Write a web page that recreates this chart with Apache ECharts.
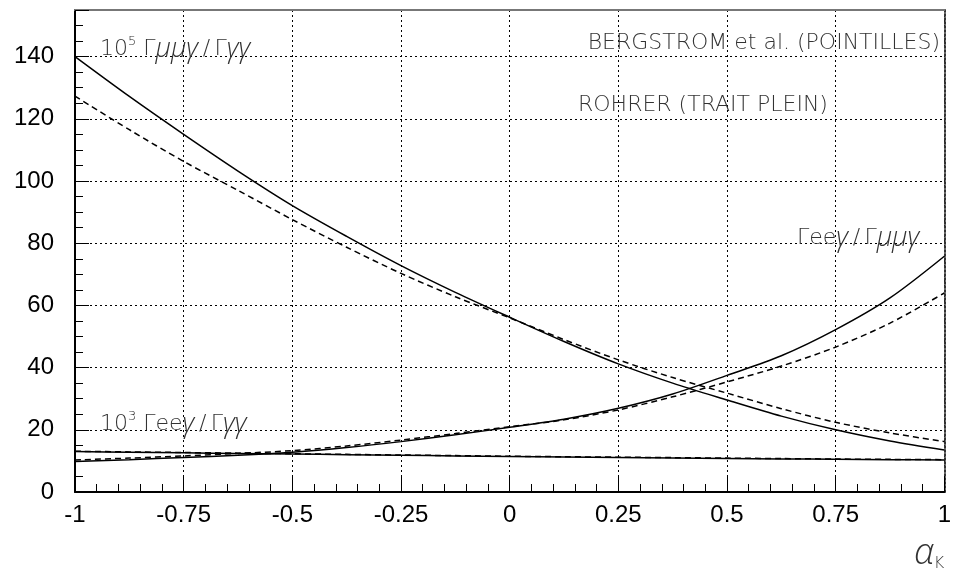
<!DOCTYPE html>
<html><head><meta charset="utf-8">
<script src="https://cdn.jsdelivr.net/npm/echarts@6/dist/echarts.min.js"></script>
<style>html,body{margin:0;padding:0;background:#fff}#c{width:954px;height:576px}</style>
</head><body><div id="c"></div>
<script>
const alphaK = [-1,-0.875,-0.75,-0.625,-0.5,-0.375,-0.25,-0.125,0,0.125,0.25,0.375,0.5,0.625,0.75,0.875,1];
// 10^5 Γμμγ/Γγγ
const mumuRohrer = [140,127.2,115.0,103.2,92.1,82.2,72.8,64.2,56.2,48.4,41.2,35.0,29.6,24.4,20.0,16.4,13.5];
const mumuBergstrom = [127.3,116.5,106.3,97.0,87.6,78.7,70.3,62.8,56.0,49.0,42.5,36.8,31.8,26.8,22.4,19.0,16.2];
// Γeeγ/Γμμγ
const ratioRohrer = [9.8,10.4,11.1,11.8,12.8,14.3,16.2,18.4,20.8,23.4,26.9,31.5,37.5,43.8,52.2,62.4,75.8];
const ratioBergstrom = [10.3,10.9,11.6,12.4,13.3,14.8,16.7,18.8,21.0,23.2,26.4,30.6,35.4,40.5,46.6,54.3,64.0];
// 10^3 Γeeγ/Γγγ
const eeRohrer = [13.0,12.8,12.6,12.4,12.2,12.0,11.8,11.6,11.4,11.25,11.1,10.95,10.8,10.65,10.5,10.4,10.3];
const eeBergstrom = [13.1,12.9,12.7,12.5,12.3,12.1,11.9,11.7,11.5,11.35,11.2,11.05,10.9,10.75,10.6,10.5,10.4];

const yTicks = [0,20,40,60,80,100,120,140];

const chart = echarts.init(document.getElementById('c'), null, {renderer:'canvas'});
const pair = arr => alphaK.map((a,i)=>[a,arr[i]]);
const solid = {color:'#000', width:1.5, type:'solid'};
const dashed = {color:'#000', width:1.5, type:[6,4]};
const mkSeries = (name, arr, ls) => ({name, type:'line', data:pair(arr), showSymbol:false, smooth:0.3, lineStyle:ls, z:5});
const annFont = "'DejaVu Sans', 'Open Sans', sans-serif";
const grFont = "'Open Sans', 'DejaVu Sans', sans-serif";
const FS = 22;
const rich = {
  t:{fontFamily:annFont, fontWeight:200, fontSize:FS, color:'#333', lineHeight:28},
  i:{fontFamily:grFont, fontWeight:300, fontStyle:'italic', fontSize:27, color:'#333', lineHeight:28},
  s:{fontFamily:annFont, fontWeight:200, fontSize:13, color:'#333', lineHeight:28, verticalAlign:'top'}
};
const ann = (x,y,text,align) => ({type:'text', left:align==='right'?undefined:x, right:align==='right'?x:undefined, top:y, z:10,
  style:{text, rich, font:"200 "+FS+"px "+annFont, fill:'#333'}});

chart.setOption({
  animation:false,
  backgroundColor:'#fff',
  grid:{left:75, right:7, top:10, bottom:84, show:false},
  xAxis:[{
    type:'value', min:-1, max:1, interval:0.25, position:'bottom',
    axisLine:{show:true, onZero:false, lineStyle:{color:'#000', width:2}},
    axisTick:{show:true, inside:true, length:16, lineStyle:{color:'#000', width:1}},
    minorTick:{show:true, splitNumber:5, length:8, lineStyle:{color:'#000', width:1}},
    axisLabel:{show:true, margin:11, fontFamily:"'Liberation Sans', Arial, sans-serif", fontSize:24, color:'#000',
      formatter:v=>String(v)},
    splitLine:{show:true, lineStyle:{color:'#000', width:1, type:[2,3]}},
    name:'{a|α}{k|K}', nameLocation:'end', nameGap:0,
    nameTextStyle:{align:'right', verticalAlign:'top', padding:[44,0,0,0],
      rich:{a:{fontFamily:grFont, fontWeight:300, fontStyle:'italic', fontSize:36, color:'#333', lineHeight:36},
            k:{fontFamily:annFont, fontWeight:200, fontSize:16, color:'#333', lineHeight:36, verticalAlign:'bottom'}}}
  },{
    type:'value', min:-1, max:1, interval:0.25, position:'top',
    axisLine:{show:true, onZero:false, lineStyle:{color:'#777', width:2}},
    axisTick:{show:false}, axisLabel:{show:false}, splitLine:{show:false}
  }],
  yAxis:[{
    type:'value', min:0, max:155, interval:20, position:'left',
    axisLine:{show:true, onZero:false, lineStyle:{color:'#000', width:2}},
    axisTick:{show:true, inside:true, length:14, lineStyle:{color:'#000', width:1}},
    minorTick:{show:true, splitNumber:4, length:8, lineStyle:{color:'#000', width:1}},
    axisLabel:{show:true, margin:21, fontFamily:"'Liberation Sans', Arial, sans-serif", fontSize:24, color:'#000',
      formatter:v=>yTicks.indexOf(v)>=0?String(v):''},
    splitLine:{show:true, lineStyle:{color:'#000', width:1, type:[2,3]}}
  },{
    type:'value', min:0, max:155, interval:20, position:'right',
    axisLine:{show:true, onZero:false, lineStyle:{color:'#333', width:2, type:[2,2]}},
    axisTick:{show:false}, axisLabel:{show:false}, splitLine:{show:false}
  }],
  series:[
    mkSeries('mumuRohrer', mumuRohrer, solid),
    mkSeries('mumuBergstrom', mumuBergstrom, dashed),
    mkSeries('ratioRohrer', ratioRohrer, solid),
    mkSeries('ratioBergstrom', ratioBergstrom, dashed),
    mkSeries('eeRohrer', eeRohrer, solid),
    mkSeries('eeBergstrom', eeBergstrom, dashed)
  ],
  graphic:[
    ann(100, 35, '{t|10}{s|5}{t| Γ}{i|μμγ}{t|\u2009/\u2009Γ}{i|γγ}'),
    ann(14, 32, '{t|BERGSTROM et al. (POINTILLES)}', 'right'),
    ann(578, 94, '{t|ROHRER (TRAIT PLEIN)}'),
    ann(797, 225, '{t|Γee}{i|γ}{t|\u2009/\u2009Γ}{i|μμγ}'),
    ann(100, 410, '{t|10}{s|3}{t| Γee}{i|γ}{t|\u2009/\u2009Γ}{i|γγ}')
  ]
});
</script></body></html>
